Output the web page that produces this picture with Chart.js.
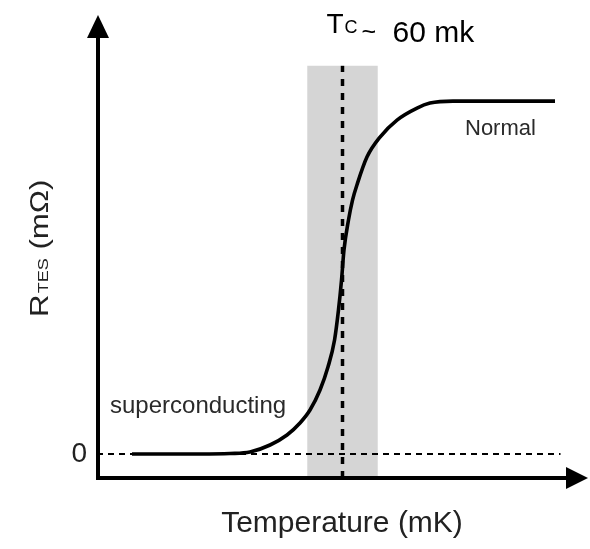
<!DOCTYPE html>
<html>
<head>
<meta charset="utf-8">
<script src="https://cdn.jsdelivr.net/npm/chart.js@4/dist/chart.umd.min.js"></script>
<style>
  html, body { margin: 0; padding: 0; background: #fff; }
  #wrap { width: 590px; height: 549px; }
</style>
</head>
<body>
<div id="wrap"><canvas id="tesChart" width="590" height="549"></canvas></div>
<script>
// Curva R(T) del TES (temperatura en mK, resistencia normalizada)
const temperature = [38.56, 45.49, 48.54, 50.58, 52.62, 54.35, 55.67, 56.69, 57.71, 58.52, 59.19, 59.59, 59.90, 60.15, 60.61, 61.02, 61.53, 62.49, 63.82, 65.55, 67.59, 68.91, 71.25, 81.64];
const resistance = [0, 0, 0.0014, 0.0057, 0.0255, 0.0538, 0.0878, 0.1246, 0.1813, 0.2465, 0.3229, 0.4079, 0.4929, 0.5779, 0.6629, 0.7195, 0.7677, 0.8414, 0.898, 0.9462, 0.9802, 0.9943, 1.0, 1.0];

// Temperatura crítica y banda de transición
const tcTemp = 60;
const bandRange = [56.4, 63.6];
const bandTop = 1.1;
const tcLineTop = 1.1;

// Línea de resistencia cero
const zeroLineRange = [35, 82.2];

// Rango de los ejes
const xRange = [35, 85];
const yRange = [-0.068, 1.244];

const fontFamily = '"Liberation Sans", Arial, Helvetica, sans-serif';

// Plugin para dibujar ejes con flechas y los textos
const decorPlugin = {
    id: 'decor',
    afterDatasetsDraw(chart) {
        const ctx = chart.ctx;
        const area = chart.chartArea;
        const xs = chart.scales.x;
        const ys = chart.scales.y;
        ctx.save();

        // Ejes
        ctx.strokeStyle = '#000';
        ctx.fillStyle = '#000';
        ctx.lineWidth = 4;
        ctx.beginPath();
        ctx.moveTo(area.left + 1, area.bottom + 2);
        ctx.lineTo(area.left + 1, area.top + 20);
        ctx.moveTo(area.left - 1, area.bottom);
        ctx.lineTo(area.right - 18, area.bottom);
        ctx.stroke();

        // Flecha vertical
        ctx.beginPath();
        ctx.moveTo(area.left + 1, area.top);
        ctx.lineTo(area.left - 10, area.top + 23);
        ctx.lineTo(area.left + 12, area.top + 23);
        ctx.closePath();
        ctx.fill();

        // Flecha horizontal
        ctx.beginPath();
        ctx.moveTo(area.right, area.bottom);
        ctx.lineTo(area.right - 22, area.bottom - 11);
        ctx.lineTo(area.right - 22, area.bottom + 11);
        ctx.closePath();
        ctx.fill();

        // Etiqueta "0"
        ctx.fillStyle = '#222';
        ctx.font = '28px ' + fontFamily;
        ctx.textAlign = 'right';
        ctx.textBaseline = 'middle';
        ctx.fillText('0', area.left - 10, ys.getPixelForValue(0));

        // Título eje X
        ctx.textAlign = 'center';
        ctx.textBaseline = 'alphabetic';
        ctx.font = '30px ' + fontFamily;
        ctx.fillText('Temperature (mK)', 342, 532);

        // Título eje Y (rotado, con subíndice)
        ctx.save();
        ctx.translate(48, 317);
        ctx.rotate(-Math.PI / 2);
        ctx.scale(1.2, 1);
        ctx.textAlign = 'left';
        ctx.font = '26px ' + fontFamily;
        ctx.fillText('R', 0, 0);
        let w = ctx.measureText('R').width;
        ctx.font = '15px ' + fontFamily;
        ctx.fillText('TES', w + 1, 0);
        w += 1 + ctx.measureText('TES').width;
        ctx.font = '26px ' + fontFamily;
        ctx.fillText(' (mΩ)', w, 0);
        ctx.restore();

        // Etiquetas de regiones
        ctx.fillStyle = '#2a2a2a';
        ctx.textAlign = 'left';
        ctx.font = '22px ' + fontFamily;
        ctx.fillText('Normal', 465, 135);
        ctx.font = '24px ' + fontFamily;
        ctx.fillText('superconducting', 110, 413);

        // Etiqueta Tc
        ctx.fillStyle = '#000';
        const tx = xs.getPixelForValue(tcTemp) - 16;
        ctx.font = '28px ' + fontFamily;
        ctx.fillText('T', tx, 33);
        let tw = ctx.measureText('T').width;
        ctx.font = '18px ' + fontFamily;
        ctx.fillText('C', tx + tw + 1, 33);
        tw += 1 + ctx.measureText('C').width;
        ctx.font = '25px ' + fontFamily;
        ctx.fillText('~', tx + tw + 4, 40);
        ctx.font = '30px ' + fontFamily;
        ctx.fillText('60 mk', tx + 66, 42);

        ctx.restore();
    }
};

const curvePoints = temperature.map((t, i) => ({ x: t, y: resistance[i] }));

const tesChart = new Chart(document.getElementById('tesChart'), {
    type: 'line',
    data: {
        datasets: [
            {
                // Curva de transición
                data: curvePoints,
                borderColor: '#000',
                borderWidth: 3.6,
                pointRadius: 0,
                cubicInterpolationMode: 'monotone',
                fill: false,
                order: 0
            },
            {
                // Línea de Tc
                data: [{ x: tcTemp, y: yRange[0] }, { x: tcTemp, y: tcLineTop }],
                borderColor: '#000',
                borderWidth: 3.5,
                borderDash: [7, 7],
                pointRadius: 0,
                fill: false,
                order: 1
            },
            {
                // Línea de resistencia cero
                data: [{ x: zeroLineRange[0], y: 0 }, { x: zeroLineRange[1], y: 0 }],
                borderColor: '#000',
                borderWidth: 2.2,
                borderDash: [6, 5],
                pointRadius: 0,
                fill: false,
                order: 1
            },
            {
                // Banda de transición
                data: [{ x: bandRange[0], y: bandTop }, { x: bandRange[1], y: bandTop }],
                borderWidth: 0,
                borderColor: 'rgba(0,0,0,0)',
                backgroundColor: '#d5d5d5',
                pointRadius: 0,
                fill: 'start',
                order: 2
            }
        ]
    },
    options: {
        responsive: false,
        animation: false,
        layout: {
            padding: { left: 97, right: 2, top: 15, bottom: 71 }
        },
        plugins: {
            legend: { display: false },
            tooltip: { enabled: false }
        },
        scales: {
            x: { type: 'linear', min: xRange[0], max: xRange[1], display: false },
            y: { type: 'linear', min: yRange[0], max: yRange[1], display: false }
        }
    },
    plugins: [decorPlugin]
});
</script>
</body>
</html>
